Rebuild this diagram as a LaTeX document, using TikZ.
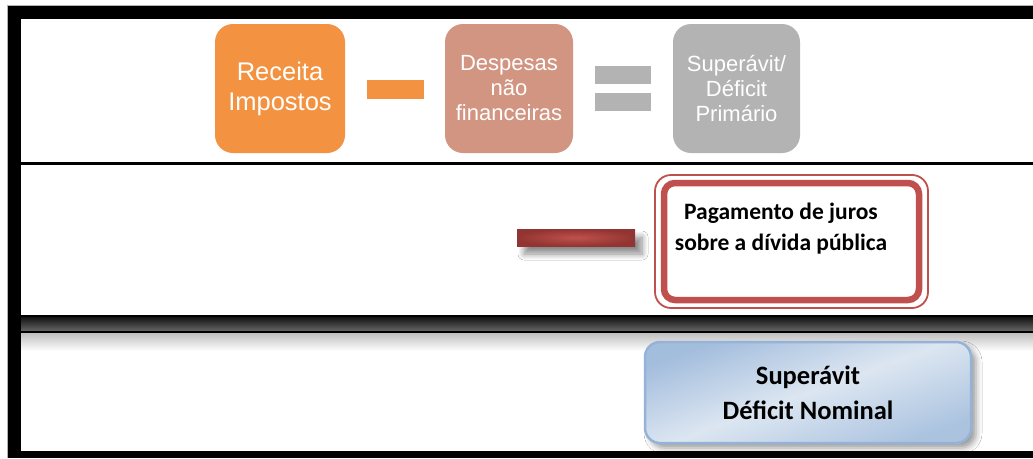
\documentclass[tikz,border=0pt]{standalone}
\usepackage{fontspec}
\setmainfont{Carlito}
\newfontfamily\tahomalike{Liberation Sans}
\usetikzlibrary{shadows.blur}
\definecolor{receitaorange}{HTML}{F39240}
\definecolor{despesasalmon}{HTML}{D29581}
\definecolor{primariogray}{HTML}{B3B3B3}
\definecolor{jurosred}{HTML}{C0504D}
\definecolor{jurosdark}{HTML}{923532}
\definecolor{nominalborder}{HTML}{95B3D7}
\definecolor{nominallight}{HTML}{DCE6F1}
\definecolor{nominaldark}{HTML}{A3BDDD}

\begin{document}
\begin{tikzpicture}[x=1pt,y=-1pt,
   topbox/.style={rounded corners=18pt,inner sep=0pt,minimum height=129pt,text=white,align=center},
   bigtext/.style={font=\tahomalike\fontsize{25.5}{30}\selectfont},
   smalltext/.style={font=\tahomalike\fontsize{22}{25}\selectfont},
   boldtext/.style 2 args={font=\bfseries\fontsize{#1}{#2}\selectfont,align=center}]
   \useasboundingbox (0,0) rectangle (1033,458);
   \fill[white] (0,0) rectangle (1033,458);
   \draw[black!30,line width=0.8pt] (7,458) -- (7,5) -- (1033,5);
   \fill (8,6) rectangle (1033,19);
   \fill (8,6) rectangle (21,458);
   \fill (21,451) rectangle (1033,458);
   \draw[line width=2.4pt] (21,163.5) -- (1033,163.5);
   \shade[top color=black!25,bottom color=white] (21,333) rectangle (1033,351);
   \shade[top color=black!95,bottom color=black!60] (21,316) rectangle (1033,331);
   \draw[line width=2pt] (21,316) -- (1033,316);
   \draw[line width=2pt] (21,332) -- (1033,332);

   \node (receita) [topbox,bigtext,fill=receitaorange,minimum width=130pt] at (280,88.5) {Receita\\Impostos};
   \node (despesas) [topbox,smalltext,fill=despesasalmon,minimum width=128pt] at (509,88.5) {Despesas\\não\\financeiras};
   \node (primario) [topbox,smalltext,fill=primariogray,minimum width=127pt] at (736.5,88.5) {Superávit/\\Déficit\\Primário};
   \fill[receitaorange] (367,80) rectangle (424,99);
   \fill[primariogray] (595,66) rectangle (651,84);
   \fill[primariogray] (595,93) rectangle (651,111);

   \node (menos) [inner sep=0pt,minimum width=118pt,minimum height=17pt,inner color=jurosred,outer color=jurosdark,
      blur shadow={shadow xshift=7pt,shadow yshift=-8pt,shadow opacity=45,shadow blur radius=6pt,shadow blur steps=8}] at (576,237.5) {};
   \draw[jurosred,line width=1.8pt,rounded corners=16pt] (655,175) rectangle (928,308);
   \node (juros) [draw=jurosred,line width=6.5pt,rounded corners=11pt,minimum width=255pt,minimum height=117pt] at (791.5,241.5) {};
   \node (jurostxt) [boldtext={23.5}{31}] at (781,229) {Pagamento de juros\\sobre a dívida pública};

   \node (nominal) [draw=nominalborder,line width=2.5pt,rounded corners=15pt,minimum width=326pt,minimum height=101pt,
      top color=nominaldark,bottom color=nominaldark!85!nominallight,middle color=nominallight,shading angle=20,
      blur shadow={shadow xshift=5pt,shadow yshift=-5pt,shadow opacity=40,shadow blur radius=6pt},boldtext={26.5}{35}] at (808,392.5) {Superávit\\Déficit Nominal};
\end{tikzpicture}
\end{document}
